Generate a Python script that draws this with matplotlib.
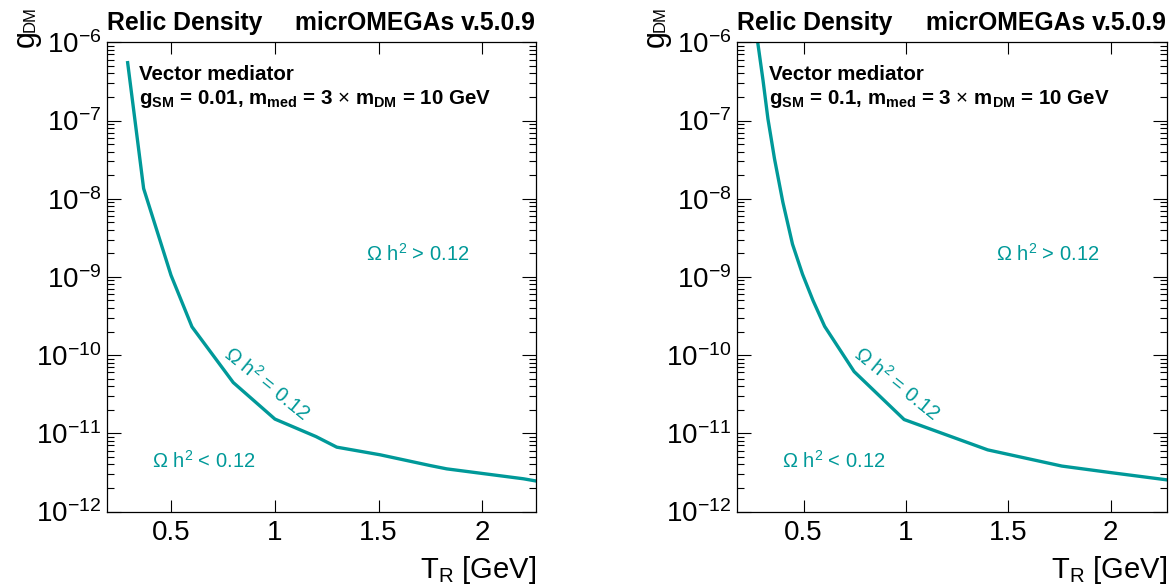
import matplotlib
matplotlib.use("Agg")
import matplotlib.pyplot as plt
from matplotlib.ticker import LogLocator, FixedLocator, NullLocator, NullFormatter, LogFormatterSciNotation

plt.rcParams['font.family'] = ['Liberation Sans', 'DejaVu Sans']
plt.rcParams['mathtext.fontset'] = 'custom'
plt.rcParams['mathtext.rm'] = 'Liberation Sans'
plt.rcParams['mathtext.bf'] = 'Liberation Sans:bold'
plt.rcParams['mathtext.it'] = 'Liberation Sans:italic'
plt.rcParams['mathtext.sf'] = 'Liberation Sans'

# Relic-density contour Omega h^2 = 0.12 in the (T_R, g_DM) plane
# g_SM = 0.01
T_gsm001 = [0.29, 0.367, 0.499, 0.600, 0.799, 1.000, 1.198, 1.298, 1.507, 1.748, 1.828, 2.198, 2.257]
g_gsm001 = [5.49e-7, 1.35e-8, 1.05e-9, 2.30e-10, 4.46e-11, 1.52e-11, 9.08e-12, 6.65e-12,
            5.31e-12, 3.87e-12, 3.51e-12, 2.62e-12, 2.46e-12]
# g_SM = 0.1
T_gsm01 = [0.275, 0.302, 0.326, 0.342, 0.358, 0.399, 0.446, 0.495, 0.546, 0.603, 0.747,
           0.991, 1.399, 1.761, 1.997, 2.273]
g_gsm01 = [1.05e-6, 3.27e-7, 1.05e-7, 5.86e-8, 3.25e-8, 9.0e-9, 2.62e-9, 1.08e-9, 5.0e-10,
           2.33e-10, 6.15e-11, 1.50e-11, 6.14e-12, 3.81e-12, 3.15e-12, 2.54e-12]

gsm_values = ["0.01", "0.1"]
curves = [(T_gsm001, g_gsm001), (T_gsm01, g_gsm01)]
xlims = [(0.189, 2.257), (0.175, 2.273)]
ylim = (1e-12, 1e-6)
xticks = [0.5, 1, 1.5, 2]
xticklabels = ["0.5", "1", "1.5", "2"]
yticks = [1e-12, 1e-11, 1e-10, 1e-9, 1e-8, 1e-7, 1e-6]

TEAL = '#009999'
W, H = 1175, 584

fig = plt.figure(figsize=(W / 100, H / 100), dpi=100)

ax_px = [(106.7, 42.3, 429.0, 469.2), (737.0, 42.3, 429.7, 469.2)]

for i, (x0, y0, w, h) in enumerate(ax_px):
    ax = fig.add_axes([x0 / W, 1 - (y0 + h) / H, w / W, h / H])
    T, g = curves[i]
    ax.plot(T, g, color=TEAL, lw=2.4, solid_joinstyle='round', clip_on=True)
    ax.set_yscale('log')
    ax.set_xlim(*xlims[i])
    ax.set_ylim(*ylim)

    ax.xaxis.set_major_locator(FixedLocator(xticks))
    ax.set_xticklabels(xticklabels)
    ax.xaxis.set_minor_locator(NullLocator())
    ax.yaxis.set_major_locator(FixedLocator(yticks))
    ax.yaxis.set_major_formatter(LogFormatterSciNotation())
    ax.yaxis.set_minor_locator(LogLocator(base=10, subs=range(2, 10), numticks=100))
    ax.yaxis.set_minor_formatter(NullFormatter())

    ax.tick_params(which='both', direction='in', top=True, right=True, width=0.8, color='black')
    ax.tick_params(axis='x', which='major', length=8.6, labelsize=20, pad=6)
    ax.tick_params(axis='y', which='major', length=10.3, labelsize=20, pad=4)
    ax.tick_params(axis='y', which='minor', length=4.8)
    for sp in ax.spines.values():
        sp.set_linewidth(0.9)

    # model description
    ax.text(32.3 / w, 1 - (79.5 - 42.3) / h, "Vector mediator", transform=ax.transAxes,
            fontsize=14.8, fontweight='bold', ha='left', va='baseline')
    ax.text(32.3 / w, 1 - (104 - 42.3) / h,
            r"$\mathbf{g}_{\mathbf{SM}}$ = " + gsm_values[i] +
            r", $\mathbf{m}_{\mathbf{med}}$ = 3 $\times$ $\mathbf{m}_{\mathbf{DM}}$ = 10 GeV",
            transform=ax.transAxes, fontsize=14.8, fontweight='bold', ha='left', va='baseline')

    # region labels
    ax.text(259.3 / w, 1 - (261 - 42.3) / h, r"Ω h$^{2}$ > 0.12", transform=ax.transAxes,
            fontsize=14.5, color=TEAL, ha='left', va='baseline')
    ax.text(45.0 / w, 1 - (467.7 - 42.3) / h, r"Ω h$^{2}$ < 0.12", transform=ax.transAxes,
            fontsize=14.5, color=TEAL, ha='left', va='baseline')
    ax.text(160.0 / w, 1 - (383.3 - 42.3) / h, r"Ω h$^{2}$ = 0.12", transform=ax.transAxes,
            fontsize=14.5, color=TEAL, ha='center', va='center', rotation=-39,
            rotation_mode='anchor')

    # header
    fig.text((x0 + 0.3) / W, 1 - 30.4 / H, "Relic Density", fontsize=17.8, fontweight='bold',
             ha='left', va='baseline')
    fig.text((x0 + w - 0.5) / W, 1 - 30.4 / H, "micrOMEGAs v.5.0.9", fontsize=17.8,
             fontweight='bold', ha='right', va='baseline')

    # y-axis title: g with a subscript DM, reading upwards
    fig.text((x0 - 81) / W, 1 - 47 / H, "g", fontsize=22, rotation=90,
             ha='center', va='bottom')
    fig.text((x0 - 77) / W, 1 - 32 / H, "DM", fontsize=12, rotation=90,
             ha='center', va='bottom')
    # x-axis title
    fig.text((x0 + w) / W, 1 - 578 / H, r"T$_{\mathrm{R}}$ [GeV]", fontsize=21,
             ha='right', va='baseline')

fig.savefig("out.png", dpi=100)
